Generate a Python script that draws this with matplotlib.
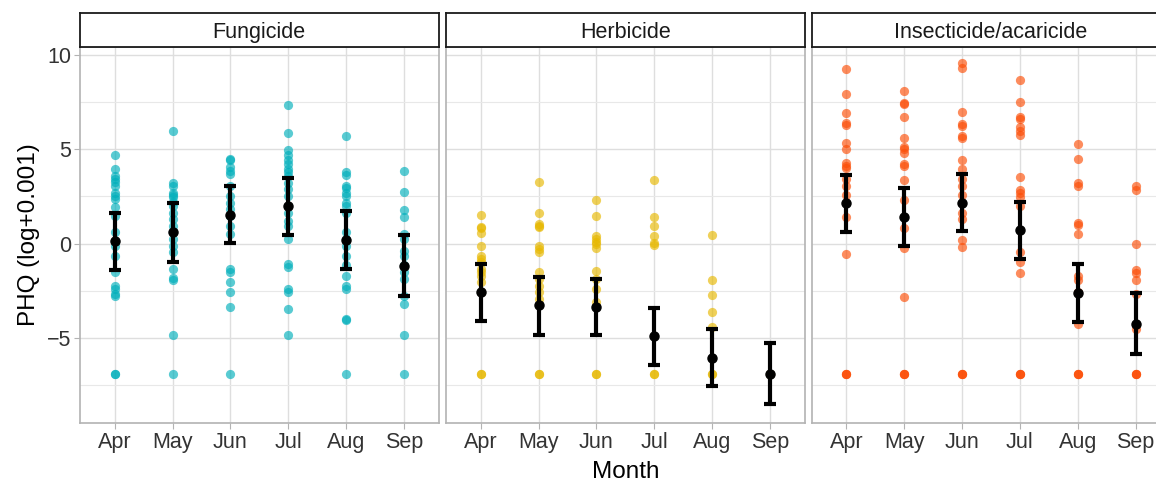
import matplotlib
matplotlib.use("Agg")
import matplotlib.pyplot as plt
import numpy as np

plt.rcParams['font.family'] = ['Liberation Sans', 'DejaVu Sans']

months = ['Apr', 'May', 'Jun', 'Jul', 'Aug', 'Sep']
groups = ['Fungicide', 'Herbicide', 'Insecticide/acaricide']
colors = ['#00AFBB', '#E7B800', '#FC4E07']
FLOOR = -6.908

# individual PHQ values per month
fungicide = [
    [4.68, 3.94, 3.56, 3.45, 3.27, 3.06, 2.68, 2.54, 2.36, 1.92, 1.48, 0.6, 0.16, -0.1,
     -0.63, -1.51, -2.22, -2.39, -2.66, -2.78, FLOOR, FLOOR],
    [5.95, 3.2, 3.06, 2.68, 2.58, 2.45, 2.2, 2.0, 1.65, 1.3, 0.95, 0.6, 0.25, -0.1, -0.45,
     -1.34, -1.83, -1.9, -4.82, FLOOR],
    [4.5, 4.43, 4.08, 3.85, 3.68, 3.06, 2.54, 2.18, 1.83, 1.48, 0.95, 0.51, -1.34, -1.51,
     -2.04, -2.57, -3.33, FLOOR],
    [7.34, 5.88, 4.96, 4.68, 4.44, 4.2, 3.98, 3.8, 3.59, 3.24, 2.9, 2.54, 1.65, 1.21, 0.95,
     0.25, -1.07, -1.25, -2.39, -2.54, -3.45, -4.82],
    [5.69, 3.8, 3.63, 3.06, 2.97, 2.71, 2.54, 2.18, 2.0, 1.65, 0.6, 0.25, -0.1, -0.63,
     -1.15, -1.73, -2.25, -2.39, -3.98, -4.02, FLOOR],
    [3.84, 2.75, 1.78, 1.43, 0.51, 0.25, -0.37, -0.63, -1.15, -1.51, -1.86, -2.75, -3.19,
     -4.82, FLOOR],
]
herbicide = [
    [1.51, 0.9, 0.81, 0.56, -0.14, -0.63, -0.8, -0.98, -1.34, -1.51, -1.69, -2.04, -2.57,
     FLOOR, FLOOR],
    [3.27, 1.62, 1.02, 0.92, 0.86, -0.14, -0.28, -0.42, -1.48, -1.86, -2.22, -2.57, -2.92,
     FLOOR, FLOOR],
    [2.32, 1.48, 0.39, 0.25, 0.11, -0.02, -0.25, -1.43, -1.86, -2.39, -3.1, FLOOR, FLOOR],
    [3.35, 1.43, 0.92, 0.39, 0.04, -0.07, FLOOR, FLOOR],
    [0.44, -1.94, -2.71, -3.61, -4.42, FLOOR, FLOOR],
    [FLOOR, FLOOR],
]
insecticide = [
    [9.24, 7.92, 6.9, 6.37, 6.3, 5.35, 5.0, 4.3, 4.12, 4.03, 3.42, 3.06, 2.57, 1.44, -0.55,
     FLOOR, FLOOR, FLOOR],
    [8.1, 7.43, 7.38, 6.73, 5.6, 5.14, 5.0, 4.82, 4.21, 4.12, 3.38, 2.29, 0.81, -0.21,
     -2.85, FLOOR, FLOOR, FLOOR],
    [9.58, 9.31, 6.99, 6.32, 6.23, 5.7, 5.62, 4.44, 3.94, 3.42, 3.06, 2.57, 1.65, 1.3, 0.19,
     -0.18, FLOOR, FLOOR, FLOOR],
    [8.66, 7.52, 6.73, 6.62, 6.16, 5.97, 5.77, 3.52, 2.85, 2.68, 2.45, 2.0, -0.46, -0.99,
     -1.55, FLOOR, FLOOR, FLOOR],
    [5.26, 4.51, 3.24, 3.03, 1.09, 0.99, 0.51, -1.73, -1.9, -2.57, -4.24, FLOOR, FLOOR,
     FLOOR],
    [3.03, 2.85, -0.02, -1.37, -1.55, -1.95, -2.66, -4.51, FLOOR, FLOOR, FLOOR],
]
values = [fungicide, herbicide, insecticide]

# mean and error bar limits per month
means = [
    [0.14, 0.6, 1.53, 2.0, 0.19, -1.16],
    [-2.57, -3.27, -3.36, -4.91, -6.04, -6.91],
    [2.13, 1.41, 2.18, 0.7, -2.62, -4.24],
]
lows = [
    [-1.39, -0.95, 0.04, 0.48, -1.36, -2.78],
    [-4.10, -4.82, -4.86, -6.41, -7.55, -8.50],
    [0.63, -0.11, 0.67, -0.81, -4.17, -5.83],
]
highs = [
    [1.64, 2.13, 3.03, 3.49, 1.71, 0.46],
    [-1.07, -1.74, -1.87, -3.42, -4.51, -5.26],
    [3.64, 2.94, 3.68, 2.2, -1.09, -2.61],
]

W, H = 1156, 482
fig = plt.figure(figsize=(W / 100, H / 100), dpi=100)

panel_left = [80.0, 446.0, 811.7]
panel_w = 358.5
panel_top, panel_bot = 47, 423
strip_top = 13

for i, g in enumerate(groups):
    ax = fig.add_axes([panel_left[i] / W, (H - panel_bot) / H,
                       panel_w / W, (panel_bot - panel_top) / H])
    for j, m in enumerate(months):
        v = values[i][j]
        ax.scatter(np.full(len(v), j), v, s=44, color=colors[i], alpha=0.65,
                   linewidths=0, zorder=3)
    x = np.arange(len(months))
    m_ = np.array(means[i])
    ax.errorbar(x, m_, yerr=[m_ - np.array(lows[i]), np.array(highs[i]) - m_],
                fmt='o', color='black', markersize=6.5, elinewidth=3.0,
                capsize=4.2, capthick=3.0, zorder=4)

    ax.set_xlim(-0.6, 5.6)
    ax.set_ylim(-9.50, 10.42)
    ax.set_xticks(x)
    ax.set_yticks([-5, 0, 5, 10])
    ax.set_yticks([-7.5, -2.5, 2.5, 7.5], minor=True)
    ax.grid(True, which='major', color='#DEDEDE', linewidth=1.0, zorder=0)
    ax.grid(True, which='minor', axis='y', color='#E8E8E8', linewidth=0.8, zorder=0)
    ax.set_axisbelow(True)
    ax.set_xticklabels(months, fontsize=15.5, color='#333333')
    ax.tick_params(axis='both', which='major', length=4, color='#B3B3B3', width=0.8,
                   pad=2.5)
    ax.tick_params(axis='y', which='minor', length=0)
    if i == 0:
        ax.set_yticklabels(['\u22125', '0', '5', '10'], fontsize=15.5, color='#333333')
        ax.set_ylabel('PHQ (log+0.001)', fontsize=17.5, color='black', labelpad=5)
    else:
        ax.tick_params(axis='y', labelleft=False, length=0)
    if i == 1:
        ax.set_xlabel('Month', fontsize=17.5, color='black', labelpad=6)
    for s in ax.spines.values():
        s.set_color('#B3B3B3')
        s.set_linewidth(1.2)

    # facet strip
    sax = fig.add_axes([panel_left[i] / W, (H - panel_top) / H,
                        panel_w / W, (panel_top - strip_top) / H])
    sax.set_xticks([])
    sax.set_yticks([])
    for s in sax.spines.values():
        s.set_color('#1A1A1A')
        s.set_linewidth(1.3)
    sax.text(0.5, 0.265, g, ha='center', va='baseline', fontsize=15.5, color='#1A1A1A',
             transform=sax.transAxes)

fig.savefig('out.png', dpi=100)
